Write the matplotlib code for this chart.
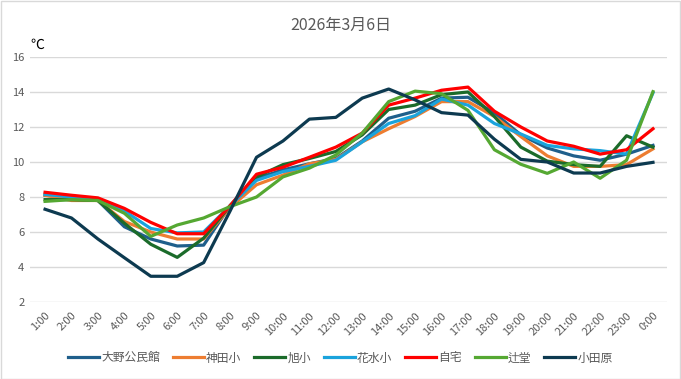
import matplotlib
matplotlib.use("Agg")
import matplotlib.pyplot as plt

plt.rcParams['font.family'] = ['Noto Sans CJK JP', 'DejaVu Sans']

hours = ["1:00", "2:00", "3:00", "4:00", "5:00", "6:00", "7:00", "8:00", "9:00", "10:00",
         "11:00", "12:00", "13:00", "14:00", "15:00", "16:00", "17:00", "18:00", "19:00",
         "20:00", "21:00", "22:00", "23:00", "0:00"]

ono = [8.1, 8.0, 7.8, 6.3, 5.6, 5.2, 5.25, 7.5, 9.05, 9.55, 9.9, 10.2, 11.2, 12.5, 12.9,
       13.65, 13.7, 12.8, 11.55, 10.8, 10.35, 10.1, 10.45, 10.95]
kanda = [8.1, 7.8, 7.8, 6.6, 6.0, 5.6, 5.6, 7.4, 8.7, 9.25, 9.9, 10.15, 11.15, 11.9, 12.6,
         13.45, 13.45, 12.6, 11.45, 10.35, 9.75, 9.75, 9.85, 10.75]
asahi = [7.85, 7.85, 7.8, 6.5, 5.3, 4.55, 5.65, 7.5, 9.15, 9.85, 10.2, 10.6, 11.55, 13.0,
         13.25, 13.85, 14.0, 12.6, 10.85, 10.05, 9.85, 9.75, 11.5, 10.85]
hanamizu = [8.15, 8.0, 7.9, 7.2, 6.2, 5.95, 6.0, 7.5, 8.95, 9.45, 9.75, 10.1, 11.15, 12.2,
            12.65, 13.6, 13.25, 12.2, 11.6, 10.95, 10.75, 10.65, 10.45, 13.95]
jitaku = [8.27, 8.1, 7.95, 7.35, 6.55, 5.9, 5.9, 7.5, 9.3, 9.7, 10.27, 10.85, 11.65, 13.25,
          13.65, 14.1, 14.28, 12.9, 12.0, 11.2, 10.9, 10.45, 10.7, 11.9]
tsujido = [7.75, 7.85, 7.8, 7.07, 5.75, 6.4, 6.8, 7.45, 8.0, 9.15, 9.65, 10.4, 11.65, 13.45,
           14.05, 13.9, 12.95, 10.7, 9.87, 9.35, 10.0, 9.07, 10.1, 14.02]
odawara = [7.3, 6.8, 5.6, 4.53, 3.47, 3.47, 4.25, 7.2, 10.27, 11.2, 12.45, 12.55, 13.65,
           14.17, 13.55, 12.82, 12.68, 11.3, 10.15, 10.0, 9.37, 9.37, 9.75, 9.98]

names = ["大野公民館", "神田小", "旭小", "花水小", "自宅", "辻堂", "小田原"]
series = [ono, kanda, asahi, hanamizu, jitaku, tsujido, odawara]
colors = ["#1f5f8b", "#ed7d31", "#1b6b2a", "#1aa3dc", "#ff0000", "#55a832", "#0d3a50"]

fig = plt.figure(figsize=(6.81, 3.79), dpi=100)
ax = fig.add_axes([30 / 681, 1 - 302 / 379, 637 / 681, 245 / 379])

x = list(range(len(hours)))
for name, vals, c in zip(names, series, colors):
    ax.plot(x, vals, color=c, lw=2.3, label=name, solid_joinstyle="round")

ax.set_ylim(2, 16)
ax.set_yticks(range(2, 17, 2))
ax.set_xlim(-0.57, 23.53)
ax.set_xticks(x)
ax.set_xticklabels(hours, rotation=45, ha="right", rotation_mode="anchor")
ax.grid(axis="y", color="#d9d9d9", lw=1)
ax.set_axisbelow(True)
for s in ax.spines.values():
    s.set_visible(False)
ax.tick_params(length=0, colors="#595959", labelsize=8)
ax.tick_params(axis="x", pad=6)
ax.tick_params(axis="y", pad=4)

fig.text(0.5, 1 - 25 / 379, "2026年3月6日", ha="center", va="center", fontsize=11.5, color="#595959")
fig.text(30 / 681, 1 - 45 / 379, "℃", ha="left", va="center", fontsize=10, color="black")

fig.legend(loc="center", bbox_to_anchor=(0.5, 1 - 358 / 379), ncol=7, frameon=False,
           fontsize=8.5, handlelength=2.6, columnspacing=1.1, handletextpad=0.2,
           labelcolor="#595959")

fig.patches.append(plt.Rectangle((0.001, 0.001), 0.997, 0.997, transform=fig.transFigure,
                                 fill=False, edgecolor="#d9d9d9", lw=1))

fig.savefig("out.png", dpi=100)
